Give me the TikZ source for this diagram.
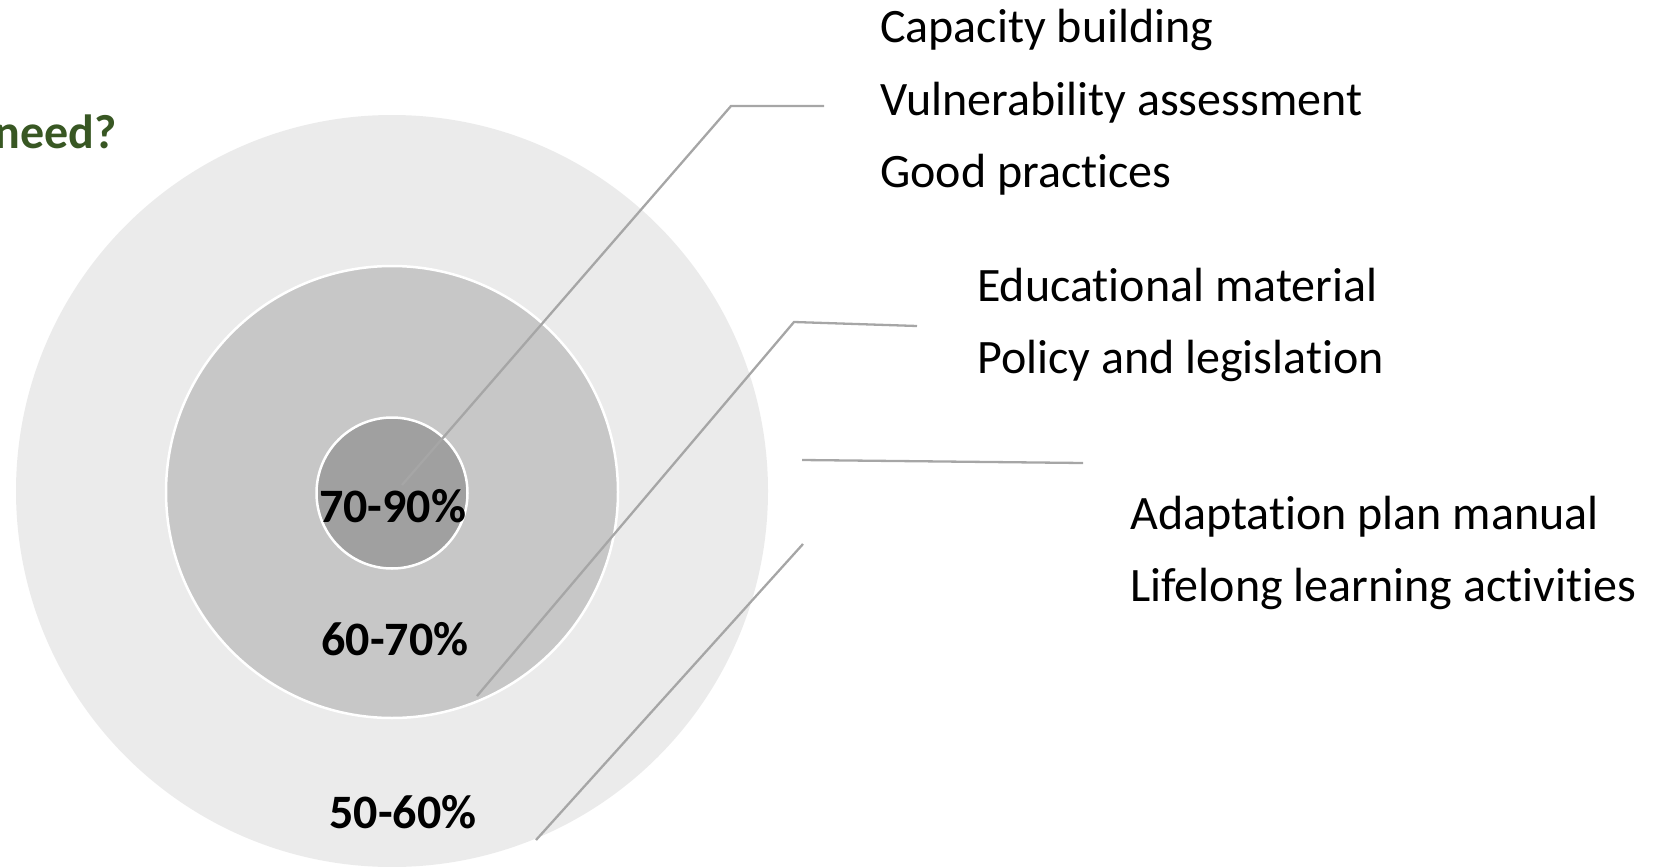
\documentclass[tikz,border=0pt]{standalone}
\usepackage{fontspec}
\setmainfont[RawFeature={-liga;-clig;-calt;-dlig;-rlig}]{Carlito}
\usepackage{xcolor}
\usetikzlibrary{positioning}

\definecolor{ringout}{HTML}{EBEBEB}
\definecolor{ringmid}{HTML}{C7C7C7}
\definecolor{ringin}{HTML}{A0A0A0}
\definecolor{leader}{HTML}{A6A6A6}
\definecolor{darkgreen}{HTML}{385723}

\begin{document}
\begin{tikzpicture}[x=1pt,y=-1pt,
    ring/.style={draw=white,line width=2.5pt},
    item/.style={anchor=base west,inner sep=0pt,font=\fontsize{48}{58}\selectfont},
    share/.style={anchor=base,inner sep=0pt,font=\fontsize{48}{58}\selectfont\bfseries},
    lead/.style={draw=leader,line width=2.3pt}]
  \useasboundingbox (0,0) rectangle (1657,867);

  % the three rings
  \fill[ringout] (392,491) circle (376);
  \draw[ring,fill=ringmid] (392,492) circle (226);
  \draw[ring,fill=ringin] (392,493) circle (75.5);

  \node[share] (p7090) at (392.5,522) {70-90\%};
  \node[share] (p6070) at (395,655) {60-70\%};
  \node[share] (p5060) at (403,828) {50-60\%};

  \node[anchor=base east,inner sep=0pt,font=\fontsize{48}{58}\selectfont\bfseries,
        text=darkgreen] (ask) at (117,148) {need?};

  % lists of needs
  \node[item] (cap) at (880,43) {Capacity building};
  \node[item] (vul) at ([yshift=-72pt]cap.base west) {Vulnerability assessment};
  \node[item] (good) at ([yshift=-72pt]vul.base west) {Good practices};

  \node[item] (edu) at (977,301) {Educational material};
  \node[item] (pol) at ([yshift=-72pt]edu.base west) {Policy and legislation};

  \node[item] (ada) at (1130,529) {Adaptation plan manual};
  \node[item] (life) at ([yshift=-72pt]ada.base west) {Lifelong learning activities};

  % leader lines
  \coordinate (a1) at (824,106); \coordinate (b1) at (731,106); \coordinate (c1) at (402,485);
  \coordinate (a2) at (917,326); \coordinate (b2) at (794,322); \coordinate (c2) at (477,696);
  \coordinate (a3) at (802,460); \coordinate (c3) at (1083,463);
  \coordinate (a4) at (803,544); \coordinate (c4) at (536,840);
  \path[lead] (a1) -- (b1) -- (c1);
  \path[lead] (a2) -- (b2) -- (c2);
  \path[lead] (a3) -- (c3);
  \path[lead] (a4) -- (c4);
\end{tikzpicture}
\end{document}
